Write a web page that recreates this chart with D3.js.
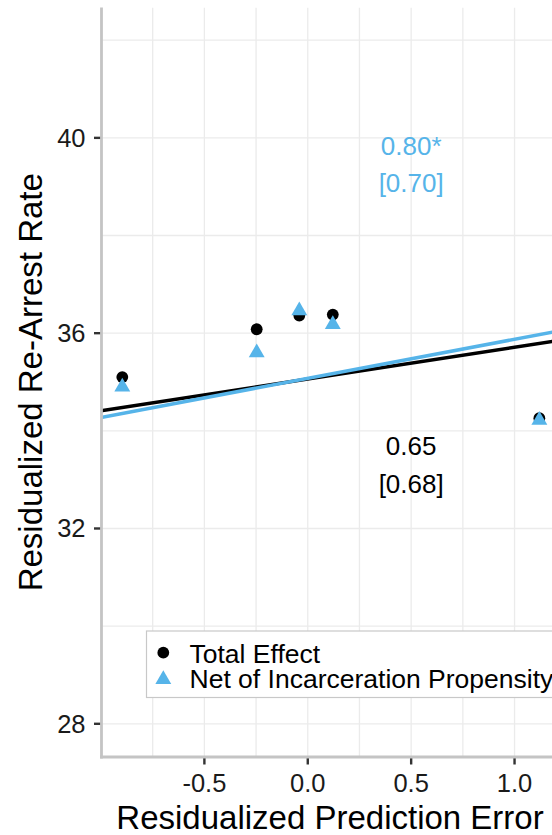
<!DOCTYPE html>
<html>
<head>
<meta charset="utf-8">
<script src="https://cdn.jsdelivr.net/npm/d3@7"></script>
<style>
  html, body { margin: 0; padding: 0; background: #fff; }
  svg { display: block; }
  text { font-family: "Liberation Sans", Arial, Helvetica, sans-serif; }
</style>
</head>
<body>
<svg id="chart" width="552" height="835"></svg>
<script>
// Binned residualized prediction error vs. residualized re-arrest rate
const predError      = [-0.897, -0.247, -0.041, 0.121, 1.120];
const totalEffect    = [35.10, 36.08, 36.36, 36.38, 34.26];
const netPropensity  = [34.90, 35.60, 36.46, 36.18, 34.22];

// Fitted lines: [total effect, net of incarceration propensity]
const seriesNames    = ["Total Effect", "Net of Incarceration Propensity"];
const fitSlopes      = [0.65, 0.80];
const fitIntercepts  = [35.06, 35.075];
const slopeLabels    = ["0.65", "0.80*"];
const bracketLabels  = ["[0.68]", "[0.70]"];
const labelAnchorX   = [0.5, 0.5];
const labelAnchorY   = [33.5, 39.65];

const xTicks      = [-0.5, 0.0, 0.5, 1.0];
const xTickLabels = ["-0.5", "0.0", "0.5", "1.0"];
const xMinor      = [-0.75, -0.25, 0.25, 0.75, 1.25];
const yTicks      = [28, 32, 36, 40];
const yMinor      = [30, 34, 38, 42];

const colors = ["#000000", "#56B4E9"];

const svg = d3.select("#chart");
const pLeft = 101, pRight = 559, pTop = 7.5, pBottom = 757;

const x = d3.scaleLinear().domain([-1.0, 1.215]).range([pLeft, pRight]);
const y = d3.scaleLinear().domain([27.32, 42.67]).range([pBottom, pTop]);

svg.append("defs").append("clipPath").attr("id", "panel")
  .append("rect").attr("x", pLeft).attr("y", pTop)
  .attr("width", pRight - pLeft).attr("height", pBottom - pTop);

const panel = svg.append("g").attr("clip-path", "url(#panel)");

// grid
const gridColor = "#ebebeb";
panel.selectAll("line.vgrid").data(xTicks.concat(xMinor)).join("line")
  .attr("class", "vgrid")
  .attr("x1", d => x(d)).attr("x2", d => x(d))
  .attr("y1", pTop).attr("y2", pBottom)
  .attr("stroke", gridColor).attr("stroke-width", 1.3);
panel.selectAll("line.hgrid").data(yTicks.concat(yMinor)).join("line")
  .attr("class", "hgrid")
  .attr("y1", d => y(d)).attr("y2", d => y(d))
  .attr("x1", pLeft).attr("x2", pRight)
  .attr("stroke", gridColor).attr("stroke-width", 1.3);

// fitted lines
const [x0, x1] = x.domain();
const line = d3.line().x(d => x(d[0])).y(d => y(d[1]));
fitSlopes.forEach((b, i) => {
  const a = fitIntercepts[i];
  panel.append("path")
    .datum([[x0, a + b * x0], [x1, a + b * x1]])
    .attr("d", line)
    .attr("fill", "none")
    .attr("stroke", colors[i])
    .attr("stroke-width", 3.5);
});

// point markers (R-style pch 19 / 17 geometry)
const r0 = 5.9;
const triPath = (cx, cy) =>
  `M${cx},${cy - 1.555 * r0}L${cx + 1.347 * r0},${cy + 0.778 * r0}L${cx - 1.347 * r0},${cy + 0.778 * r0}Z`;

panel.selectAll("circle.total").data(predError.map((v, i) => [v, totalEffect[i]])).join("circle")
  .attr("class", "total")
  .attr("cx", d => x(d[0])).attr("cy", d => y(d[1]))
  .attr("r", r0).attr("fill", colors[0]);

panel.selectAll("path.net").data(predError.map((v, i) => [v, netPropensity[i]])).join("path")
  .attr("class", "net")
  .attr("d", d => triPath(x(d[0]), y(d[1])))
  .attr("fill", colors[1]);

// coefficient annotations
slopeLabels.forEach((s, i) => {
  const t = svg.append("text")
    .attr("x", x(labelAnchorX[i]))
    .attr("y", y(labelAnchorY[i]))
    .attr("text-anchor", "middle")
    .attr("font-size", 26)
    .attr("fill", colors[i]);
  t.append("tspan").attr("x", x(labelAnchorX[i])).text(s);
  t.append("tspan").attr("x", x(labelAnchorX[i])).attr("dy", 37.5).text(bracketLabels[i]);
});

// axis lines
const axisColor = "#c4c4c4";
svg.append("line").attr("x1", pLeft + 0.5).attr("x2", pLeft + 0.5)
  .attr("y1", pTop).attr("y2", pBottom + 1.4)
  .attr("stroke", axisColor).attr("stroke-width", 2.8);
svg.append("line").attr("x1", pLeft - 0.9).attr("x2", 552)
  .attr("y1", pBottom).attr("y2", pBottom)
  .attr("stroke", axisColor).attr("stroke-width", 2.8);

// ticks and tick labels
const tickColor = "#333333";
svg.selectAll("line.xtick").data(xTicks).join("line")
  .attr("class", "xtick")
  .attr("x1", d => x(d)).attr("x2", d => x(d))
  .attr("y1", pBottom + 1.4).attr("y2", pBottom + 7.5)
  .attr("stroke", tickColor).attr("stroke-width", 2.4);
svg.selectAll("text.xlab").data(xTicks).join("text")
  .attr("class", "xlab")
  .attr("x", d => x(d)).attr("y", 791.5)
  .attr("text-anchor", "middle")
  .attr("font-size", 25.5).attr("fill", "#1a1a1a")
  .text((d, i) => xTickLabels[i]);

svg.selectAll("line.ytick").data(yTicks).join("line")
  .attr("class", "ytick")
  .attr("x1", 94).attr("x2", pLeft - 0.9)
  .attr("y1", d => y(d)).attr("y2", d => y(d))
  .attr("stroke", tickColor).attr("stroke-width", 2.4);
svg.selectAll("text.ylab").data(yTicks).join("text")
  .attr("class", "ylab")
  .attr("x", 85.5).attr("y", d => y(d) + 9)
  .attr("text-anchor", "end")
  .attr("font-size", 25.5).attr("fill", "#1a1a1a")
  .text(d => d);

// axis titles
svg.append("text")
  .attr("x", (pLeft + pRight) / 2).attr("y", 829)
  .attr("text-anchor", "middle").attr("font-size", 33).attr("fill", "#000")
  .text("Residualized Prediction Error");
svg.append("text")
  .attr("transform", `translate(42,${(pTop + pBottom) / 2}) rotate(-90)`)
  .attr("text-anchor", "middle").attr("font-size", 33).attr("fill", "#000")
  .text("Residualized Re-Arrest Rate");

// legend
const lg = svg.append("g");
lg.append("rect")
  .attr("x", 146.5).attr("y", 631).attr("width", 460).attr("height", 66.5)
  .attr("fill", "#fff").attr("stroke", "#c8c8c8").attr("stroke-width", 1.2);
lg.append("circle").attr("cx", 163.3).attr("cy", 652.7).attr("r", r0).attr("fill", colors[0]);
lg.append("path").attr("d", triPath(163.3, 679.5)).attr("fill", colors[1]);
seriesNames.forEach((n, i) => {
  lg.append("text")
    .attr("x", 189.5).attr("y", 662.5 + i * 25)
    .attr("font-size", 26.5).attr("fill", "#000")
    .text(n);
});
</script>
</body>
</html>
